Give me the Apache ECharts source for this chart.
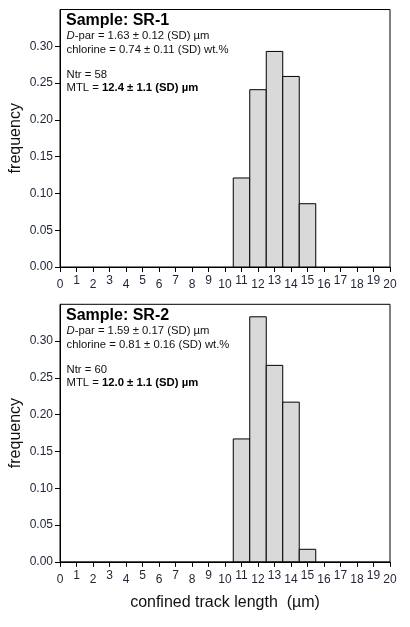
<!DOCTYPE html>
<html>
<head>
<meta charset="utf-8">
<script src="https://cdn.jsdelivr.net/npm/echarts@6/dist/echarts.min.js"></script>
<style>
html,body{margin:0;padding:0;background:#fff;}
#c{width:410px;height:627px;}
</style>
</head>
<body>
<div id="c"></div>
<script>
// ---- data ----
var binCenters = [11, 12, 13, 14, 15];           // confined track length bins (µm)
var freqSR1 = [0.121, 0.241, 0.293, 0.259, 0.086]; // Sample SR-1 frequencies
var freqSR2 = [0.167, 0.333, 0.267, 0.217, 0.017]; // Sample SR-2 frequencies
var yTicks = [0, 0.05, 0.10, 0.15, 0.20, 0.25, 0.30];
var sampleTitles = ['Sample: SR-1', 'Sample: SR-2'];
var dparLines = ['-par = 1.63 ± 0.12 (SD) µm', '-par = 1.59 ± 0.17 (SD) µm'];
var chlorineLines = ['chlorine = 0.74 ± 0.11 (SD) wt.%', 'chlorine = 0.81 ± 0.16 (SD) wt.%'];
var ntrLines = ['Ntr = 58', 'Ntr = 60'];
var mtlValues = ['12.4 ± 1.1 (SD) µm', '12.0 ± 1.1 (SD) µm'];

var FONT = 'Liberation Sans, Arial, sans-serif';
var chart = echarts.init(document.getElementById('c'), null, {renderer:'canvas'});

function pairs(xs, ys){ return xs.map(function(x,i){return [x, ys[i]];}); }

function renderBar(params, api){
  var x = api.value(0), y = api.value(1);
  var p1 = api.coord([x - 0.5, y]);
  var p2 = api.coord([x + 0.5, 0]);
  return {
    type:'rect',
    shape:{x:p1[0], y:p1[1], width:p2[0]-p1[0], height:p2[1]-p1[1]},
    style:{fill:'#d9d9d9', stroke:'#000', lineWidth:1}
  };
}

var gridTops = [9.5, 304.3];
var grids = gridTops.map(function(t){
  return {left:60, right:20, top:t, height:257.5, show:true, borderColor:'#000', borderWidth:1,
          backgroundColor:'transparent', containLabel:false, outerBoundsMode:'none'};
});

function xAxis(i){
  return {
    type:'value', gridIndex:i, min:0, max:20, interval:1,
    name: i===1 ? 'confined track length  (µm)' : '',
    nameLocation:'middle', nameGap:33, nameMoveOverlap:false,
    nameTextStyle:{fontSize:16, color:'#111', fontFamily:FONT},
    axisLine:{show:true, lineStyle:{color:'#000', width:1}},
    axisTick:{show:true, inside:false, length:5, lineStyle:{color:'#000'}},
    splitLine:{show:false},
    axisLabel:{
      margin:8, fontSize:12, color:'#1e2436', fontFamily:FONT, hideOverlap:false,
      formatter:function(v){ return (v % 2 === 0 ? '{e|' : '{o|') + v + '}'; },
      rich:{ e:{padding:[4,0,0,0], fontSize:12, fontFamily:FONT, color:'#1e2436'}, o:{padding:[0,0,0,0], fontSize:12, fontFamily:FONT, color:'#1e2436'} }
    }
  };
}
function yAxis(i){
  return {
    type:'value', gridIndex:i, min:0, max:0.35, interval:0.05,
    name:'frequency', nameLocation:'middle', nameGap:36, nameMoveOverlap:false,
    nameTextStyle:{fontSize:16, color:'#111', fontFamily:FONT},
    axisLine:{show:true, lineStyle:{color:'#000', width:1}},
    axisTick:{show:true, length:5, lineStyle:{color:'#000'}, customValues:yTicks},
    splitLine:{show:false},
    axisLabel:{
      margin:7, fontSize:12, color:'#1e2436', fontFamily:FONT, customValues:yTicks,
      formatter:function(v){ return v > 0.34 ? '' : v.toFixed(2); }
    }
  };
}

var series = [
  {type:'custom', xAxisIndex:0, yAxisIndex:0, renderItem:renderBar, data:pairs(binCenters, freqSR1), silent:true},
  {type:'custom', xAxisIndex:1, yAxisIndex:1, renderItem:renderBar, data:pairs(binCenters, freqSR2), silent:true}
];

var textBlocks = [];
[0,1].forEach(function(i){
  var t = gridTops[i];
  textBlocks.push({type:'text', x:66, y:t+11.5, style:{text:sampleTitles[i], font:'bold 16px '+FONT, fill:'#000', verticalAlign:'middle'}});
  textBlocks.push({type:'text', x:66.5, y:t+26.8, style:{
    text:'{i|D}{n|'+dparLines[i]+'}', verticalAlign:'middle',
    rich:{i:{fontStyle:'italic', fontSize:11.3, fontFamily:FONT, fill:'#111'}, n:{fontSize:11.3, fontFamily:FONT, fill:'#111'}}
  }});
  textBlocks.push({type:'text', x:66.5, y:t+40.8, style:{text:chlorineLines[i], font:'11.3px '+FONT, fill:'#111', verticalAlign:'middle'}});
  textBlocks.push({type:'text', x:66.5, y:t+65.6, style:{text:ntrLines[i], font:'11.3px '+FONT, fill:'#111', verticalAlign:'middle'}});
  textBlocks.push({type:'text', x:66.5, y:t+78.8, style:{
    text:'{n|MTL = }{b|'+mtlValues[i]+'}', verticalAlign:'middle',
    rich:{n:{fontSize:11.3, fontFamily:FONT, fill:'#111'}, b:{fontWeight:'bold', fontSize:11.3, fontFamily:FONT, fill:'#000'}}
  }});
});

chart.setOption({
  animation:false,
  backgroundColor:'#fff',
  grid:grids,
  xAxis:[xAxis(0), xAxis(1)],
  yAxis:[yAxis(0), yAxis(1)],
  series:series,
  graphic:textBlocks
});
</script>
</body>
</html>
